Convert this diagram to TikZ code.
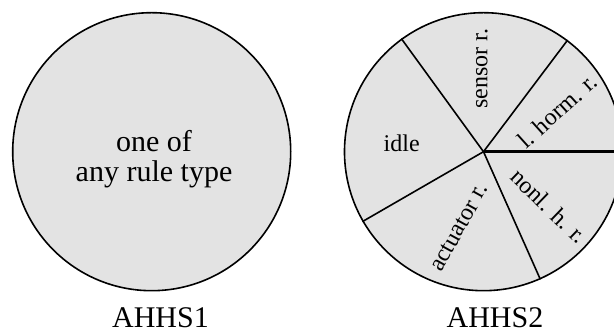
\documentclass[tikz,border=0pt]{standalone}
\usepackage{fontspec}
\setmainfont{Liberation Serif}
\tikzset{
  pie/.style={circle, draw=black, line width=1.6pt, fill=black!11, minimum size=278pt, inner sep=0pt},
  spoke/.style={black, line width=1.6pt},
  slice/.style={font=\fontsize{24}{25}\selectfont, inner sep=0pt},
  caption/.style={font=\fontsize{30}{30}\selectfont, inner sep=0pt},
}
\begin{document}
\begin{tikzpicture}[x=1pt,y=1pt]
\clip (0,0) rectangle (614,331);
\node[pie] (ahhs1) at (151.7,179.3) {};
\node[pie] (ahhs2) at (483.5,179.3) {};
\node[caption, align=center] (anyrule) at (154,171.5) {one of\\any rule type};
% spokes of the second system
\draw[spoke] (ahhs2.center) -- (ahhs2.126.8);
\draw[spoke] (ahhs2.center) -- (ahhs2.53.3);
\draw[spoke, line width=2.5pt] (ahhs2.center) -- (ahhs2.0);
\draw[spoke] (ahhs2.center) -- (ahhs2.-66.2);
\draw[spoke] (ahhs2.center) -- (ahhs2.210.8);
\node[slice] (idle) at (401.7,188) {idle};
\node[slice, rotate=90] (sensor) at (482,262.5) {sensor r.};
\node[slice, rotate=42] (lhorm) at (557.5,220) {l. horm. r.};
\node[slice, rotate=-44] (nonlh) at (549,125) {nonl. h. r.};
\node[slice, rotate=61] (actuator) at (459,103.5) {actuator r.};
\node[caption] (name1) at (160.5,13.5) {AHHS1};
\node[caption] (name2) at (495,13.5) {AHHS2};
\end{tikzpicture}
\end{document}
